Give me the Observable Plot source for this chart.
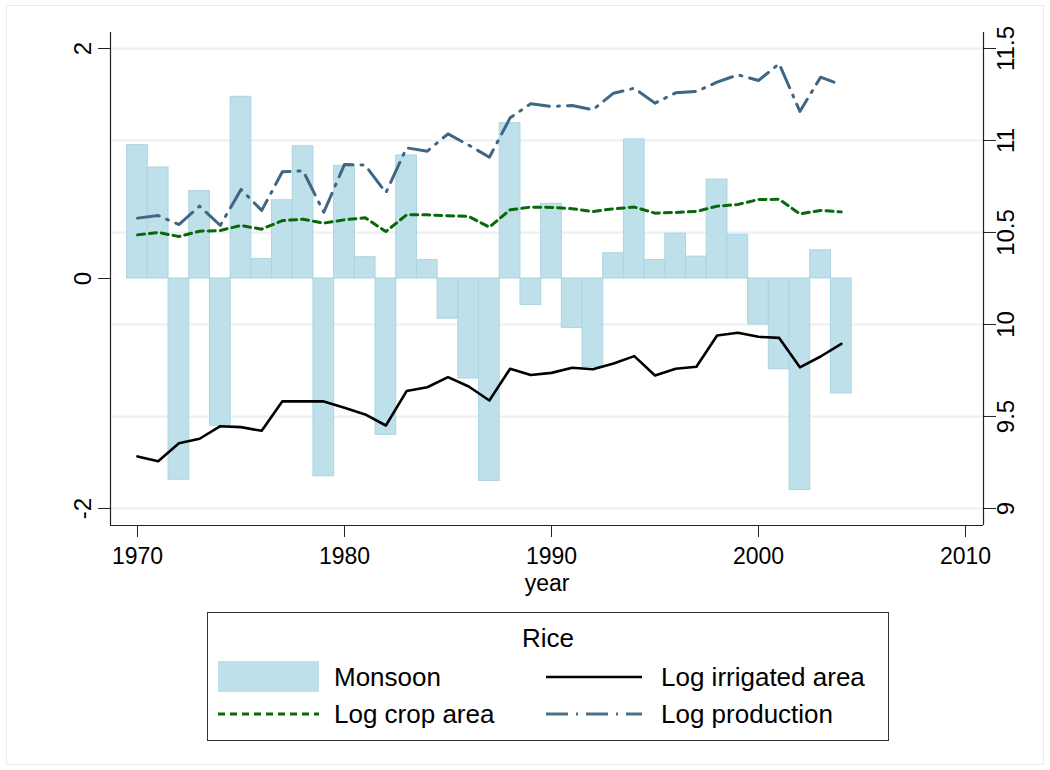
<!DOCTYPE html>
<html>
<head>
<meta charset="utf-8">
<script src="https://cdn.jsdelivr.net/npm/d3@7"></script>
<script src="https://cdn.jsdelivr.net/npm/@observablehq/plot@0.6"></script>
<style>
  body { margin: 0; background: #fff; font-family: "Liberation Sans", Arial, sans-serif; }
  #wrap { position: relative; width: 1050px; height: 770px; overflow: hidden; }
  #outer { position: absolute; left: 6px; top: 5px; width: 1036px; height: 758px; border: 1px solid #e4eef1; }
  #chart { position: absolute; left: 0; top: 0; }
  #legend { position: absolute; left: 207px; top: 612px; width: 680px; height: 127px; border: 1px solid #333; background: #fff; color: #000; }
  #legend .t { position: absolute; font-size: 26px; line-height: 30px; white-space: nowrap; }
  #legend svg { position: absolute; }
</style>
</head>
<body>
<div id="wrap">
  <div id="outer"></div>
  <div id="chart"></div>
  <div id="legend">
    <div class="t" style="left:0;width:680px;text-align:center;top:10px;">Rice</div>
    <div style="position:absolute;left:10px;top:48px;width:101px;height:31px;background:#bee0ea;"></div>
    <div class="t" style="left:126px;top:49px;">Monsoon</div>
    <svg style="left:338px;top:54px;" width="96" height="20"><line x1="0" x2="96" y1="10" y2="10" stroke="#000" stroke-width="2.6"/></svg>
    <div class="t" style="left:453px;top:49px;">Log irrigated area</div>
    <svg style="left:10px;top:91px;" width="101" height="20"><line x1="0" x2="101" y1="10" y2="10" stroke="#08680a" stroke-width="3" stroke-dasharray="7,5"/></svg>
    <div class="t" style="left:126px;top:86px;">Log crop area</div>
    <svg style="left:338px;top:91px;" width="96" height="20"><line x1="0" x2="96" y1="10" y2="10" stroke="#4a6f88" stroke-width="3" stroke-dasharray="22,8,2,8"/></svg>
    <div class="t" style="left:453px;top:86px;">Log production</div>
  </div>
</div>
<script>
// ---- data ----
const years = [1970,1971,1972,1973,1974,1975,1976,1977,1978,1979,
               1980,1981,1982,1983,1984,1985,1986,1987,1988,1989,
               1990,1991,1992,1993,1994,1995,1996,1997,1998,1999,
               2000,2001,2002,2003,2004];
const monsoon = [1.16,0.965,-1.75,0.76,-1.28,1.58,0.17,0.68,1.15,-1.72,
                 0.98,0.185,-1.36,1.07,0.16,-0.35,-0.87,-1.76,1.35,-0.23,
                 0.65,-0.43,-0.77,0.22,1.21,0.16,0.39,0.19,0.86,0.38,
                 -0.40,-0.79,-1.84,0.245,-1.0];
const logIrrigatedArea = [9.283,9.257,9.355,9.379,9.447,9.442,9.422,9.583,9.582,9.582,
                          9.547,9.511,9.451,9.638,9.659,9.714,9.663,9.587,9.759,9.725,
                          9.737,9.765,9.757,9.788,9.828,9.723,9.759,9.770,9.940,9.955,
                          9.933,9.927,9.767,9.826,9.895];
const logCropArea = [10.487,10.500,10.478,10.507,10.511,10.538,10.518,10.565,10.572,10.551,
                     10.569,10.580,10.505,10.596,10.596,10.591,10.587,10.529,10.623,10.638,
                     10.636,10.629,10.614,10.629,10.638,10.605,10.609,10.614,10.643,10.652,
                     10.679,10.680,10.601,10.620,10.612];
const logProduction = [10.578,10.592,10.543,10.643,10.538,10.734,10.620,10.830,10.835,10.610,
                       10.870,10.866,10.716,10.960,10.942,11.036,10.975,10.909,11.123,11.200,
                       11.185,11.190,11.167,11.257,11.284,11.203,11.259,11.266,11.317,11.357,
                       11.326,11.417,11.158,11.344,11.302];
const leftTicks = [-2, 0, 2];
const rightTicks = [9, 9.5, 10, 10.5, 11, 11.5];
const xTicks = [1970, 1980, 1990, 2000, 2010];

// right axis (9..11.5) mapped onto the left scale (-2..2)
const toLeft = v => (v - 10.25) * 1.6;
const fromLeft = d => +(d / 1.6 + 10.25).toFixed(2);

const rows = years.map((year, i) => ({
  year,
  monsoon: monsoon[i],
  irr: toLeft(logIrrigatedArea[i]),
  crop: toLeft(logCropArea[i]),
  prod: toLeft(logProduction[i])
}));

const xDomain = [1968.696, 2010.87];
const yDomain = [-2.148, 2.139];

const chart = Plot.plot({
  width: 1050,
  height: 600,
  marginLeft: 110,
  marginRight: 67,
  marginTop: 32,
  marginBottom: 75,
  x: { domain: xDomain },
  y: { domain: yDomain },
  style: { fontFamily: "'Liberation Sans', Arial, sans-serif", fontSize: "24px", color: "#000", background: "transparent", overflow: "visible" },
  marks: [
    Plot.ruleY(rightTicks.map(toLeft), { stroke: "#e8f0f2", strokeWidth: 2 }),
    Plot.rect(rows, { x1: d => d.year - 0.5, x2: d => d.year + 0.5, y1: 0, y2: "monsoon", fill: "#bee0ea", stroke: "#acd5e1", strokeWidth: 1 }),
    Plot.line(rows, { x: "year", y: "irr", stroke: "#000", strokeWidth: 2.6 }),
    Plot.line(rows, { x: "year", y: "crop", stroke: "#08680a", strokeWidth: 3, strokeDasharray: "7,5" }),
    Plot.line(rows, { x: "year", y: "prod", stroke: "#3f6682", strokeWidth: 3, strokeDasharray: "22,8,2,8" }),
    Plot.ruleX(xDomain, { stroke: "#222", strokeWidth: 1.2 }),
    Plot.ruleY([yDomain[0]], { stroke: "#222", strokeWidth: 1.2 }),
    Plot.axisY(leftTicks, { anchor: "left", tickSize: 12, tickPadding: 8, tickRotate: -90, tickFormat: d => String(d), label: null, stroke: "#222" }),
    Plot.axisY(rightTicks.map(toLeft), { anchor: "right", tickSize: 12, tickFormat: () => "", label: null, stroke: "#222" }),
    Plot.axisY(rightTicks.map(toLeft), { anchor: "right", tickSize: 0, tickPadding: 30, tickRotate: -90, tickFormat: d => String(fromLeft(d)), label: null }),
    Plot.axisX(xTicks, { anchor: "bottom", tickSize: 12, tickPadding: 10, tickFormat: d => String(d), label: null, stroke: "#222", fontSize: 23 }),
    Plot.text(["year"], { frameAnchor: "bottom", dy: 65, text: d => d, fontSize: 23, fill: "#000" })
  ]
});
document.getElementById("chart").appendChild(chart);
</script>
</body>
</html>
